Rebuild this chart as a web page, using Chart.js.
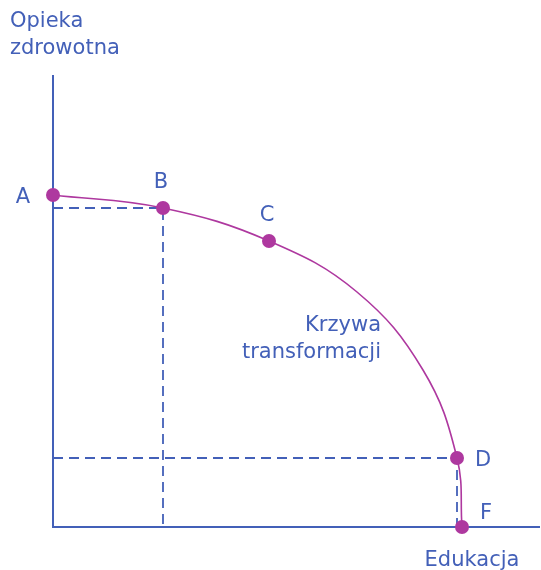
<!DOCTYPE html>
<html>
<head>
<meta charset="utf-8">
<script src="https://cdn.jsdelivr.net/npm/chart.js@4/dist/chart.umd.min.js"></script>
<style>
html,body{margin:0;padding:0;background:#fff;}
#wrap{width:541px;height:570px;}
</style>
</head>
<body>
<div id="wrap"><canvas id="c" width="541" height="570"></canvas></div>
<script>
// Point names and coordinates (x = Edukacja, y = Opieka zdrowotna)
const pointLabels = ["A", "B", "C", "D", "F"];
const pointX = [0, 110, 216, 404, 409];
const pointY = [332, 319, 286, 69, 0];
// Curve path (includes the labelled points)
const curveX = [0, 110, 216, 304, 370, 404, 409];
const curveY = [332, 319, 286, 235, 157, 69, 0];
const axisMaxX = 487;
const axisMaxY = 452;
const xTitle = "Edukacja";
const yTitle = ["Opieka", "zdrowotna"];
const curveTitle = ["Krzywa", "transformacji"];

const BLUE = "#4360b8";
const PURPLE = "#ae389f";
const FONT = "'DejaVu Sans', sans-serif";

const curveData = curveX.map((x, i) => ({x, y: curveY[i]}));
const markerData = pointX.map((x, i) => ({x, y: pointY[i]}));
const iB = pointLabels.indexOf("B"), iD = pointLabels.indexOf("D");

const labelOffsets = {A: [-30, 3], B: [-2, -25], C: [-2, -25], D: [26, 3], F: [24, -13]};

const labelPlugin = {
  id: "labels",
  afterDatasetsDraw(chart) {
    const ctx = chart.ctx, xs = chart.scales.x, ys = chart.scales.y;
    ctx.save();
    ctx.fillStyle = BLUE;
    ctx.font = "21px " + FONT;
    ctx.textBaseline = "middle";
    ctx.textAlign = "center";
    pointLabels.forEach((l, i) => {
      const o = labelOffsets[l];
      ctx.fillText(l, xs.getPixelForValue(pointX[i]) + o[0], ys.getPixelForValue(pointY[i]) + o[1]);
    });
    ctx.textAlign = "right";
    ctx.fillText(curveTitle[0], 381, 326);
    ctx.fillText(curveTitle[1], 381, 353);
    ctx.textAlign = "left";
    ctx.fillText(yTitle[0], 10, 22);
    ctx.fillText(yTitle[1], 10, 49);
    ctx.textAlign = "center";
    ctx.fillText(xTitle, 472, 561);
    ctx.restore();
  }
};

new Chart(document.getElementById("c"), {
  type: "scatter",
  data: {
    datasets: [
      {data: [{x: 0, y: axisMaxY}, {x: 0, y: 0}, {x: axisMaxX, y: 0}], showLine: true, borderColor: BLUE, borderWidth: 2, pointRadius: 0, clip: false, order: 5},
      {data: [{x: 0, y: pointY[iB]}, {x: pointX[iB], y: pointY[iB]}, {x: pointX[iB], y: 0}], showLine: true, borderColor: BLUE, borderWidth: 1.8, borderDash: [10, 6], pointRadius: 0, clip: false, order: 4},
      {data: [{x: 0, y: pointY[iD]}, {x: pointX[iD], y: pointY[iD]}, {x: pointX[iD], y: 0}], showLine: true, borderColor: BLUE, borderWidth: 1.8, borderDash: [10, 6], pointRadius: 0, clip: false, order: 4},
      {data: curveData, showLine: true, borderColor: PURPLE, borderWidth: 1.6, pointRadius: 0, tension: 0.4, clip: false, order: 3},
      {data: markerData, showLine: false, pointRadius: 7, pointBackgroundColor: PURPLE, pointBorderColor: PURPLE, pointBorderWidth: 0, clip: false, order: 1}
    ]
  },
  options: {
    responsive: false,
    animation: false,
    events: [],
    layout: {autoPadding: false, padding: {left: 53, right: 1, top: 75, bottom: 43}},
    plugins: {legend: {display: false}, tooltip: {enabled: false}},
    scales: {
      x: {type: "linear", min: 0, max: axisMaxX, display: false},
      y: {type: "linear", min: 0, max: axisMaxY, display: false}
    }
  },
  plugins: [labelPlugin]
});
</script>
</body>
</html>
